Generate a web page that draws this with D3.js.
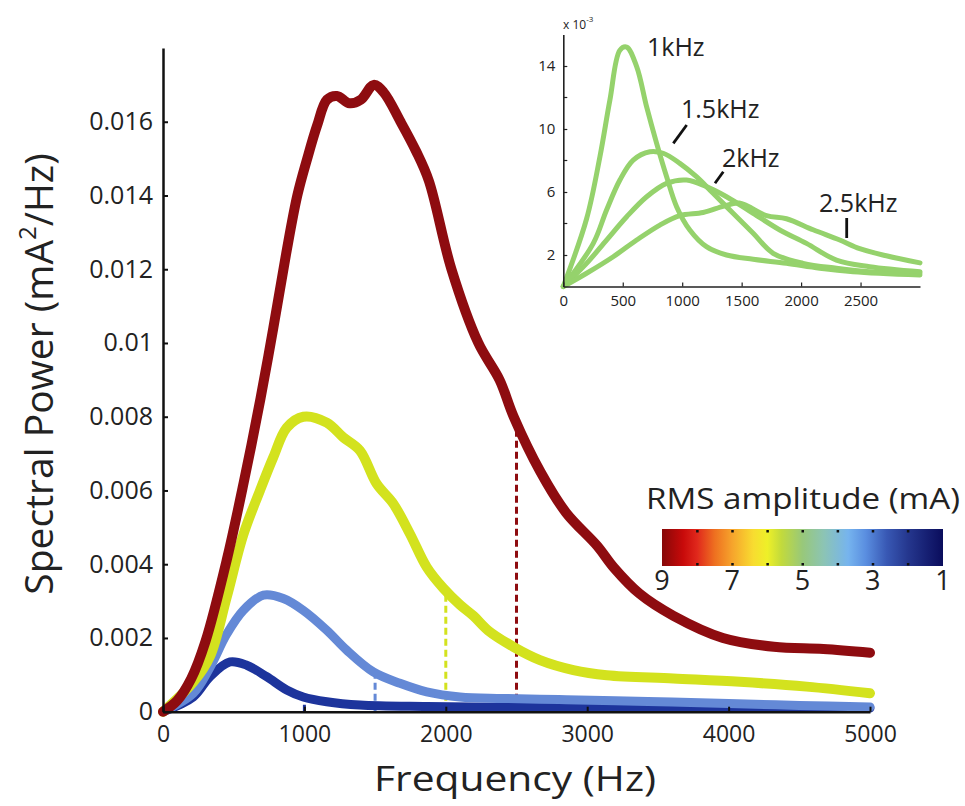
<!DOCTYPE html>
<html>
<head>
<meta charset="utf-8">
<script src="https://cdn.jsdelivr.net/npm/d3@7"></script>
<style>
  html, body { margin: 0; padding: 0; background: #fff; }
  svg { display: block; }
  text { font-family: "Open Sans", "Noto Sans", sans-serif; fill: #222; }
</style>
</head>
<body>
<svg id="chart" width="965" height="806"></svg>
<script>
// ---------------- DATA ----------------
// Main plot: spectral power (mA^2/Hz) vs frequency (Hz)
const xTicksMain = [0, 1000, 2000, 3000, 4000, 5000];
const yTicksMain = [0, 0.002, 0.004, 0.006, 0.008, 0.01, 0.012, 0.014, 0.016];

const redFreq  = [0,100,200,300,450,570,690,780,870,950,1020,1090,1160,1230,1320,1400,1490,1560,1680,1790,1880,2040,2230,2380,2480,2670,2850,3070,3190,3370,3610,3960,4320,4670,5000];
const redPower = [0,0.0003,0.0009,0.0019,0.0041,0.0062,0.0085,0.0104,0.0124,0.0140,0.0150,0.0159,0.0166,0.0167,0.0165,0.0166,0.0170,0.0168,0.0160,0.0152,0.0144,0.0120,0.0100,0.0090,0.0080,0.0065,0.0054,0.0045,0.0039,0.0032,0.0026,0.0020,0.00176,0.0017,0.0016];

const yellowFreq  = [0,214,332,450,568,686,780,875,992,1158,1275,1393,1511,1629,1747,1865,1982,2100,2195,2300,2478,2666,2902,3138,3609,4081,4552,5000];
const yellowPower = [0,0.0008,0.0015,0.0031,0.0048,0.0060,0.0069,0.0077,0.0080,0.00784,0.00744,0.00708,0.00618,0.00564,0.00482,0.00392,0.00335,0.0029,0.0026,0.0022,0.00176,0.0014,0.00113,0.00099,0.0009,0.00081,0.00068,0.0005];

const lightBlueFreq  = [0,214,332,450,568,710,851,992,1158,1299,1487,1676,1865,2100,2400,2800,3200,3600,4000,4500,5000];
const lightBluePower = [0,0.0005,0.0012,0.0021,0.00275,0.00316,0.00307,0.00275,0.00221,0.00167,0.00108,0.00077,0.00054,0.0004,0.00036,0.00033,0.0003,0.00026,0.00022,0.00017,0.00013];

const darkBlueFreq  = [0,214,332,474,592,733,875,992,1158,1393,1865,2500,3000,3500,4000,4500,5000];
const darkBluePower = [0,0.0004,0.00095,0.00135,0.00126,0.00095,0.00059,0.0004,0.00027,0.00018,0.00014,0.00012,0.00011,0.0001,0.0001,0.0001,0.0001];

// stimulation frequency markers (Hz)
const markerFreqs = [1000, 1500, 2000, 2500];

// Colorbar
const colorbarTicks = [9, 7, 5, 3, 1];
const colorbarDots  = [8, 7, 6, 5, 4, 3, 2];

// Inset (power in units of 1e-3)
const insetXTicks = [0, 500, 1000, 1500, 2000, 2500];
const insetYTicks = [2, 6, 10, 14];
const insetYMinor = [4, 8, 12];
const k1Freq   = [0,196,308,392,476,533,617,701,785,869,953,1064,1204,1373,1597,1877,2157,2437,3000];
const k1Power  = [0,4.3,8.24,11.84,15.0,15.2,13.96,11.4,9.09,6.97,5.07,3.59,2.53,2.0,1.73,1.47,1.16,0.94,0.73];
const k15Freq  = [0,252,364,476,588,728,840,980,1120,1260,1428,1597,1765,2017,2297,2577,3000];
const k15Power = [0,2.74,4.86,6.76,8.03,8.56,8.46,7.82,6.97,5.92,4.65,3.38,2.11,1.47,1.16,0.94,0.84];
const k2Freq   = [0,196,364,533,701,869,1036,1204,1373,1597,1821,2045,2297,2577,3000];
const k2Power  = [0,1.47,2.95,4.43,5.7,6.55,6.76,6.34,5.7,4.65,3.59,2.74,1.68,1.26,0.94];
const k25Freq  = [0,196,420,617,812,980,1176,1350,1480,1709,1877,2101,2325,2493,2717,3000];
const k25Power = [0,0.84,1.89,2.95,3.9,4.5,4.7,5.1,5.3,4.5,4.3,3.6,2.95,2.4,1.95,1.5];
const insetLabels = ["1kHz", "1.5kHz", "2kHz", "2.5kHz"];

// ---------------- DRAW ----------------
const svg = d3.select("#chart");
const zip = (f, p) => f.map((d, i) => ({f: d, p: p[i]}));

// Main scales
const x = d3.scaleLinear().domain([0, 5000]).range([163, 870]);
const y = d3.scaleLinear().domain([0, 0.018]).range([711.7, 48]);

const series = [
  {data: zip(darkBlueFreq, darkBluePower),   color: "#1d349c", w: 9},
  {data: zip(lightBlueFreq, lightBluePower), color: "#6489d6", w: 9},
  {data: zip(yellowFreq, yellowPower),       color: "#d3e21e", w: 10},
  {data: zip(redFreq, redPower),             color: "#8e0c10", w: 10}
];

const line = d3.line().x(d => x(d.f)).y(d => y(d.p)).curve(d3.curveCatmullRom.alpha(0.5));

function interp(data, f) {
  for (let i = 1; i < data.length; i++) {
    if (data[i].f >= f) {
      const a = data[i-1], b = data[i];
      return a.p + (b.p - a.p) * (f - a.f) / (b.f - a.f);
    }
  }
  return data[data.length-1].p;
}

// marker lines (under curves)
const markerG = svg.append("g");
markerFreqs.forEach((mf, i) => {
  const s = series[i];
  markerG.append("line")
    .attr("x1", x(mf)).attr("x2", x(mf))
    .attr("y1", y(0)).attr("y2", y(interp(s.data, mf)))
    .attr("stroke", s.color).attr("stroke-width", 3)
    .attr("stroke-dasharray", "7,4");
});

// curves
svg.append("g").selectAll("path").data(series).join("path")
  .attr("d", d => line(d.data))
  .attr("fill", "none")
  .attr("stroke", d => d.color)
  .attr("stroke-width", d => d.w)
  .attr("stroke-linecap", "round")
  .attr("stroke-linejoin", "round");

// axes
const fmtY = d => d === 0 ? "0" : String(+d.toFixed(3));
const yAxis = svg.append("g").attr("transform", `translate(${x(0)},0)`)
  .call(d3.axisLeft(y).tickValues(yTicksMain).tickSize(-5).tickSizeOuter(0).tickPadding(10).tickFormat(fmtY));
const xAxis = svg.append("g").attr("transform", `translate(0,${y(0)})`)
  .call(d3.axisBottom(x).tickValues(xTicksMain).tickSize(-5).tickSizeOuter(0).tickPadding(10).tickFormat(d3.format("d")));
[yAxis, xAxis].forEach(a => {
  a.select(".domain").attr("stroke", "#111").attr("stroke-width", 2.5);
  a.selectAll(".tick line").attr("stroke", "#111").attr("stroke-width", 2);
  a.selectAll(".tick text").attr("fill", "#222")
    .style("font-family", '"Open Sans", sans-serif');
});
xAxis.selectAll(".tick text").attr("font-size", 23).attr("dy", "0.9em");
yAxis.selectAll(".tick text").attr("font-size", 25);

// axis titles
const yTitle = svg.append("text")
  .attr("transform", "translate(53,374) rotate(-90)")
  .attr("text-anchor", "middle")
  .attr("font-size", 39);
yTitle.append("tspan").text("Spectral Power (mA");
yTitle.append("tspan").text("2").attr("font-size", 24).attr("dy", -17);
yTitle.append("tspan").text("/Hz)").attr("dy", 17);

svg.append("text")
  .attr("x", 515).attr("y", 791)
  .attr("text-anchor", "middle")
  .attr("font-size", 34)
  .attr("textLength", 282)
  .attr("lengthAdjust", "spacingAndGlyphs")
  .text("Frequency (Hz)");

// ---------------- Colorbar ----------------
const cb = {x0: 662, x1: 943, y0: 529, y1: 566};
const cbScale = d3.scaleLinear().domain([9, 1]).range([cb.x0, cb.x1]);
const cmapStops = [
  [9, "#860808"], [8.4, "#c80a0a"], [8.0, "#e0281c"], [7.5, "#ee7020"], [7.0, "#f6a42c"],
  [6.4, "#f8dc30"], [6.0, "#eef028"], [5.6, "#c2da3c"], [5.0, "#98c87a"], [4.4, "#8cc4b4"],
  [3.7, "#76b4ee"], [3.2, "#5a8ee0"], [2.6, "#3858b4"], [2.0, "#25378e"], [1.0, "#0a0c5c"]
];
const defs = svg.append("defs");
const grad = defs.append("linearGradient").attr("id", "cmap")
  .attr("x1", "0%").attr("x2", "100%").attr("y1", "0%").attr("y2", "0%");
grad.selectAll("stop").data(cmapStops).join("stop")
  .attr("offset", d => ((9 - d[0]) / 8 * 100) + "%")
  .attr("stop-color", d => d[1]);
svg.append("rect")
  .attr("x", cb.x0).attr("y", cb.y0)
  .attr("width", cb.x1 - cb.x0).attr("height", cb.y1 - cb.y0)
  .attr("fill", "url(#cmap)");
const dotG = svg.append("g");
colorbarDots.forEach(v => {
  [cb.y0 + 1, cb.y1 - 3].forEach(yy => {
    dotG.append("rect").attr("x", cbScale(v) - 1).attr("y", yy).attr("width", 2.5).attr("height", 2.5).attr("fill", "#111");
  });
});
svg.append("g").selectAll("text").data(colorbarTicks).join("text")
  .attr("x", d => cbScale(d)).attr("y", 590)
  .attr("text-anchor", "middle").attr("font-size", 27)
  .text(d => d);
svg.append("text")
  .attr("x", 803).attr("y", 509)
  .attr("text-anchor", "middle").attr("font-size", 30)
  .attr("textLength", 314)
  .attr("lengthAdjust", "spacingAndGlyphs")
  .text("RMS amplitude (mA)");

// ---------------- Inset ----------------
const ix = d3.scaleLinear().domain([0, 3000]).range([563.3, 920]);
const iy = d3.scaleLinear().domain([0, 16]).range([286.5, 34.5]);
const insetSeries = [zip(k1Freq, k1Power), zip(k15Freq, k15Power), zip(k2Freq, k2Power), zip(k25Freq, k25Power)];
const iline = d3.line().x(d => ix(d.f)).y(d => iy(d.p)).curve(d3.curveCatmullRom.alpha(0.5));
svg.append("g").selectAll("path").data(insetSeries).join("path")
  .attr("d", iline)
  .attr("fill", "none").attr("stroke", "#95d26c").attr("stroke-width", 5)
  .attr("stroke-linecap", "round").attr("stroke-linejoin", "round");

const iyAxis = svg.append("g").attr("transform", `translate(${ix(0)},0)`)
  .call(d3.axisLeft(iy).tickValues(insetYTicks).tickSize(-4).tickSizeOuter(0).tickPadding(8).tickFormat(d3.format("d")));
const ixAxis = svg.append("g").attr("transform", `translate(0,${iy(0)})`)
  .call(d3.axisBottom(ix).tickValues(insetXTicks).tickSize(-4).tickSizeOuter(0).tickPadding(6).tickFormat(d3.format("d")));
[iyAxis, ixAxis].forEach(a => {
  a.select(".domain").attr("stroke", "#222").attr("stroke-width", 1.6);
  a.selectAll(".tick line").attr("stroke", "#222").attr("stroke-width", 1.2);
  a.selectAll(".tick text").attr("font-size", 15).attr("fill", "#333")
    .style("font-family", '"Open Sans", sans-serif');
});
ixAxis.selectAll(".tick text").attr("dy", "0.9em");
svg.append("g").selectAll("line").data(insetYMinor).join("line")
  .attr("x1", ix(0)).attr("x2", ix(0) + 4)
  .attr("y1", d => iy(d)).attr("y2", d => iy(d))
  .attr("stroke", "#222").attr("stroke-width", 1.2);

const expo = svg.append("text").attr("x", 563).attr("y", 29).attr("font-size", 12).attr("fill", "#333");
expo.append("tspan").text("x 10");
expo.append("tspan").text("-3").attr("font-size", 8).attr("dy", -7);

// inset labels and pointer strokes
const labelPos = [
  {x: 647, y: 56}, {x: 681, y: 118}, {x: 722, y: 167}, {x: 819, y: 212}
];
svg.append("g").selectAll("text").data(insetLabels).join("text")
  .attr("x", (d, i) => labelPos[i].x).attr("y", (d, i) => labelPos[i].y)
  .attr("font-size", 25)
  .text(d => d);
const pointers = [
  [673.3, 143.3, 686.7, 125], [715, 183.3, 723.3, 171.7], [846.7, 238, 846.7, 218]
];
svg.append("g").selectAll("line").data(pointers).join("line")
  .attr("x1", d => d[0]).attr("y1", d => d[1]).attr("x2", d => d[2]).attr("y2", d => d[3])
  .attr("stroke", "#111").attr("stroke-width", 2.8);
</script>
</body>
</html>
